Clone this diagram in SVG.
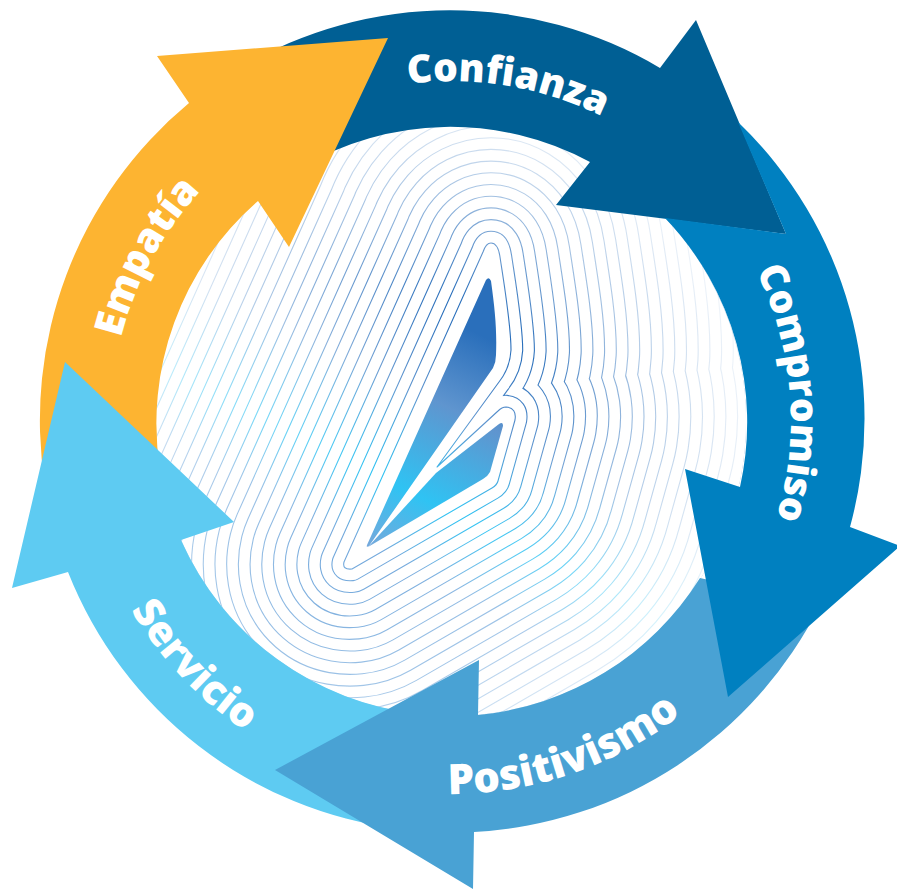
<svg xmlns="http://www.w3.org/2000/svg" width="897" height="890" viewBox="0 0 897 890">
<style>
.l{fill:none;stroke:url(#sg);stroke-linejoin:round}
.w{fill:none;stroke:#fff;stroke-linejoin:round}
.t{font-family:"Open Sans","Liberation Sans",sans-serif;font-weight:800;font-size:39px;fill:#fff}
</style>
<defs>
<linearGradient id="sg" gradientUnits="userSpaceOnUse" x1="510" y1="310" x2="387" y2="554">
<stop offset=".13" stop-color="#2a6fbb"/><stop offset=".42" stop-color="#5f95cf"/><stop offset=".76" stop-color="#2fc3f3"/><stop offset="1" stop-color="#74a9dc"/>
</linearGradient>
<radialGradient id="fade" gradientUnits="userSpaceOnUse" cx="380" cy="480" r="400">
<stop offset=".5" stop-color="#fff" stop-opacity="0"/><stop offset=".72" stop-color="#fff" stop-opacity=".45"/><stop offset="1" stop-color="#fff" stop-opacity=".9"/>
</radialGradient>
<clipPath id="disc"><circle cx="451" cy="421" r="295"/></clipPath>
<path id="c" d="M483,252 L344,562 Q342,570 352,569 L492,488 Q497,485 498,481 L515,420 Q517,408 506,407 Q502,407 498,411 L437,467 L499,382 Q510,368 511,350 C511,325 505,290 500,257 Q498,243 491,243 Q486,243 483,252 Z"/>
<path id="p1" d="M408,84 A340 340 0 0 1 620,126"/>
<path id="p2" d="M756,271 A340 340 0 0 1 773,529"/>
<path id="p3" d="M448,794 A373 373 0 0 0 690,707"/>
<path id="p4" d="M131,610 A372 372 0 0 0 283,753"/>
<path id="p5" d="M121,338 A340 340 0 0 1 260,140"/>
</defs>
<rect width="897" height="890" fill="#fff"/>
<g id="contours" clip-path="url(#disc)">
<use href="#c" class="l" stroke-width="539.3" stroke-opacity=".3"/><use href="#c" class="w" stroke-width="537.1"/>
<use href="#c" class="l" stroke-width="515.9" stroke-opacity=".33"/><use href="#c" class="w" stroke-width="513.7"/>
<use href="#c" class="l" stroke-width="492.5" stroke-opacity=".36"/><use href="#c" class="w" stroke-width="490.3"/>
<use href="#c" class="l" stroke-width="469.1" stroke-opacity=".39"/><use href="#c" class="w" stroke-width="466.9"/>
<use href="#c" class="l" stroke-width="445.7" stroke-opacity=".42"/><use href="#c" class="w" stroke-width="443.5"/>
<use href="#c" class="l" stroke-width="422.3" stroke-opacity=".45"/><use href="#c" class="w" stroke-width="420.1"/>
<use href="#c" class="l" stroke-width="398.9" stroke-opacity=".48"/><use href="#c" class="w" stroke-width="396.7"/>
<use href="#c" class="l" stroke-width="375.5" stroke-opacity=".51"/><use href="#c" class="w" stroke-width="373.3"/>
<use href="#c" class="l" stroke-width="352.1" stroke-opacity=".54"/><use href="#c" class="w" stroke-width="349.9"/>
<use href="#c" class="l" stroke-width="328.7" stroke-opacity=".57"/><use href="#c" class="w" stroke-width="326.5"/>
<use href="#c" class="l" stroke-width="305.3" stroke-opacity=".6"/><use href="#c" class="w" stroke-width="303.1"/>
<use href="#c" class="l" stroke-width="281.9" stroke-opacity=".63"/><use href="#c" class="w" stroke-width="279.7"/>
<use href="#c" class="l" stroke-width="258.5" stroke-opacity=".66"/><use href="#c" class="w" stroke-width="256.3"/>
<use href="#c" class="l" stroke-width="235.1" stroke-opacity=".69"/><use href="#c" class="w" stroke-width="232.9"/>
<use href="#c" class="l" stroke-width="211.7" stroke-opacity=".72"/><use href="#c" class="w" stroke-width="209.5"/>
<use href="#c" class="l" stroke-width="188.3" stroke-opacity=".75"/><use href="#c" class="w" stroke-width="186.1"/>
<use href="#c" class="l" stroke-width="164.9" stroke-opacity=".78"/><use href="#c" class="w" stroke-width="162.7"/>
<use href="#c" class="l" stroke-width="141.5" stroke-opacity=".82"/><use href="#c" class="w" stroke-width="139.3"/>
<use href="#c" class="l" stroke-width="118.1" stroke-opacity=".86"/><use href="#c" class="w" stroke-width="115.9"/>
<use href="#c" class="l" stroke-width="94.7" stroke-opacity=".9"/><use href="#c" class="w" stroke-width="92.5"/>
<use href="#c" class="l" stroke-width="71.3" stroke-opacity=".94"/><use href="#c" class="w" stroke-width="69.1"/>
<use href="#c" class="l" stroke-width="47.9" stroke-opacity=".97"/><use href="#c" class="w" stroke-width="45.7"/>
<use href="#c" class="l" stroke-width="24.5"/><use href="#c" class="w" stroke-width="22.3"/>
<use href="#c" fill="#fff" stroke="url(#sg)" stroke-width="1.1" stroke-linejoin="round"/>
<rect x="150" y="120" width="600" height="600" fill="url(#fade)"/>
</g>
<g id="logo">
<path fill="url(#sg)" d="M486,280 Q489,276 491,281 C495,310 497,330 496,355 Q496,362 493,368 L369,546 Q366,548 367,545 Z"/>
<path fill="url(#sg)" d="M368,547 L436,473 L499,424 Q503,421 503,426 L490,472 Q488,476 483,479 Z"/>
</g>
<g id="confianza">
<path fill="#005f94" d="M696,20 L786,234 L556,205 L590,162 A295 295 0 0 0 300,168 L240,68 A411 411 0 0 1 660,68 Z"/>
<text class="t"><textPath href="#p1">Confianza</textPath></text>
</g>
<g id="empatia">
<path fill="#fdb431" d="M157,56 L388,38 L289,247 L258,201 A295 295 0 0 0 160,470 L45,485 A412 412 0 0 1 189,103 Z"/>
<text class="t" style="font-size:40px"><textPath href="#p5">Empatía</textPath></text>
</g>
<g id="servicio">
<path fill="#5ecbf2" d="M65,362 L234,522 L181,540 A295 295 0 0 0 420,714 L400,829 A411 411 0 0 1 68,572 L12,588 Z"/>
<text class="t" style="font-size:41px"><textPath href="#p4">Servicio</textPath></text>
</g>
<g id="positivismo">
<path fill="#49a2d4" d="M275,770 L479,660 L478,715 A295 295 0 0 0 700,578 L820,605 A411 411 0 0 1 474,832 L473,889 Z"/>
<text class="t" style="font-size:42px"><textPath href="#p3">Positivismo</textPath></text>
</g>
<g id="compromiso">
<path fill="#0080c0" d="M738,122 A411 411 0 0 1 850,527 L900,546 L728,697 L685,469 L740,487 A295 295 0 0 0 665,218 L786,234 Z"/>
<text class="t"><textPath href="#p2">Compromiso</textPath></text>
</g>
</svg>
